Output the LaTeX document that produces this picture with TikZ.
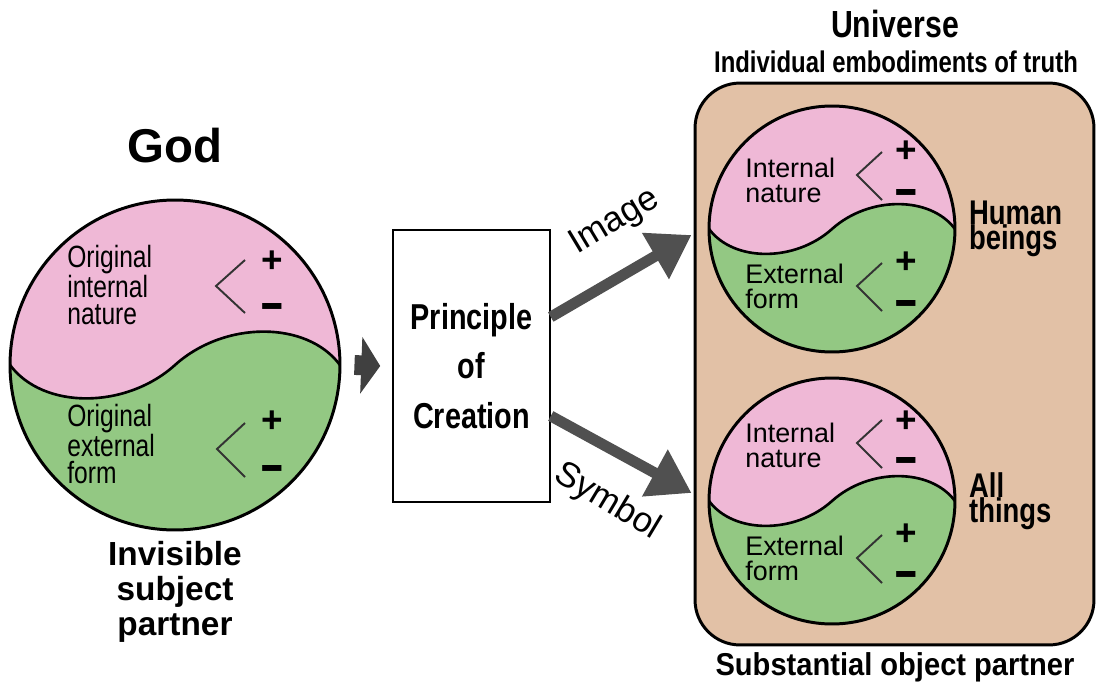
\documentclass[tikz,border=0pt]{standalone}
\usepackage{fontspec}
\setmainfont{Liberation Sans}
\newfontfamily\condfont[FakeStretch=0.8]{Liberation Sans}
\newfontfamily\semifont[FakeStretch=0.92]{Liberation Sans}
\newfontfamily\minusfont[FakeStretch=0.65]{Liberation Sans}
\newcommand\tightskip{\lineskiplimit=-20pt\relax}
\usetikzlibrary{calc,positioning,arrows.meta}
\definecolor{pinkhalf}{RGB}{239,184,214}
\definecolor{greenhalf}{RGB}{147,200,131}
\definecolor{tanbox}{RGB}{226,193,166}
\definecolor{arrowgray}{RGB}{80,80,80}
\definecolor{blockgray}{RGB}{64,64,64}
\tikzset{
  yinyang/.style={
    circle,
    draw=black, line width=1.7pt,
    inner sep=0pt,
    minimum size=2*#1,
    path picture={
      \fill[pinkhalf] (path picture bounding box.south west) rectangle (path picture bounding box.north east);
      \begin{scope}[shift={(path picture bounding box.center)}, x=#1, y=#1]
        \fill[greenhalf] (-1.2,0) -- (-1,0) .. controls (-0.8,-0.27) and (-0.3,-0.27) .. (0,0)
          .. controls (0.3,0.27) and (0.8,0.27) .. (1,0) -- (1.2,0) -- (1.2,-1.2) -- (-1.2,-1.2) -- cycle;
        \draw[line width=1.5pt] (-1,0) .. controls (-0.8,-0.27) and (-0.3,-0.27) .. (0,0)
          .. controls (0.3,0.27) and (0.8,0.27) .. (1,0);
      \end{scope}}},
  intext/.style={anchor=west, align=left, inner sep=0pt,
    font=\condfont\fontsize{17.5}{15.5}\selectfont},
  smalltext/.style={anchor=west, align=left, inner sep=0pt,
    font=\fontsize{15.3}{14.2}\selectfont},
  sign/.style={inner sep=0pt, font=\bfseries\fontsize{21}{21}\selectfont},
  minus/.style={inner sep=0pt, font=\minusfont\bfseries\fontsize{34}{34}\selectfont},
  bracket/.style={draw=black!80, line width=1.1pt},
  tag/.style={anchor=west, align=left, inner sep=0pt,
    font=\condfont\bfseries\fontsize{19.5}{14}\selectfont\tightskip},
  principle/.style={
    rectangle,
    draw=black, line width=0.9pt, fill=white,
    minimum width=3.14cm,
    minimum height=5.44cm,
    align=center,
    font=\condfont\bfseries\fontsize{20.5}{28}\selectfont},
  world/.style={
    rectangle,
    rounded corners=0.9cm,
    draw=black, line width=1.7pt,
    fill=tanbox,
    minimum width=7.98cm,
    minimum height=11.24cm},
  bigarrow/.style={draw=arrowgray, line width=6.2pt, -{Triangle[length=23.8pt,width=28.9pt]}},
  blockarrow/.style={draw=blockgray, line width=11.3pt, -{Triangle[length=10.8pt,width=31.8pt]}},
  arrowlabel/.style={inner sep=0pt, font=\fontsize{20}{20}\selectfont},
}
\begin{document}
\begin{tikzpicture}[x=0.02cm, y=-0.02cm]
  \useasboundingbox (0,0) rectangle (1096,690);

  % God side
  \node[yinyang=3.3cm] (god) at (175,365) {};
  \node[font=\bfseries\fontsize{27}{30}\selectfont, inner sep=0pt] (godtitle) at (175,146) {God};
  \node[align=center, inner sep=0pt, font=\bfseries\fontsize{19}{19.8}\selectfont] (subject) at (175,592) {Invisible\\subject\\partner};
  \node[intext] (orignature) at ($(god)+(-108,-80)$) {Original\\internal\\nature};
  \node[intext] (origform) at ($(god)+(-108,79)$) {Original\\external\\form};
  \draw[bracket] ($(god)+(70,-105)$) -- ++(-29,26) -- ++(29,27);
  \node[sign] at ($(god)+(97,-103)$) {+};
  \node[minus] at ($(god)+(97,-52)$) {–};
  \draw[bracket] ($(god)+(70,58)$) -- ++(-28,26) -- ++(28,28);
  \node[sign] at ($(god)+(97,57)$) {+};
  \node[minus] at ($(god)+(97,110)$) {–};

  % principle
  \node[principle] (poc) at (471.5,366) {Principle\\of\\Creation};
  \draw[blockarrow] ($(god.east)+(13,0)$) -- ($(poc.west)+(-12,0)$);

  % universe
  \node[world] (univ) at (894.5,364) {};
  \node[font=\condfont\bfseries\fontsize{21.5}{21.5}\selectfont, inner sep=0pt] (universe) at (895,24) {Universe};
  \node[font=\condfont\bfseries\fontsize{17}{17}\selectfont, inner sep=0pt] (embody) at (896,62) {Individual embodiments of truth};
  \node[font=\semifont\bfseries\fontsize{18}{18}\selectfont, inner sep=0pt] (object) at (895,667) {Substantial object partner};

  \node[yinyang=2.46cm] (human) at (832,229) {};
  \node[smalltext] (humannature) at ($(human)+(-87,-49)$) {Internal\\nature};
  \node[smalltext] (humanform) at ($(human)+(-87,57)$) {External\\form};
  \draw[bracket] ($(human)+(50,-77)$) -- ++(-25,23) -- ++(25,25);
  \node[sign] at ($(human)+(74,-77)$) {+};
  \node[minus] at ($(human)+(74,-30)$) {–};
  \draw[bracket] ($(human)+(50,34)$) -- ++(-25,23) -- ++(25,25);
  \node[sign] at ($(human)+(74,34)$) {+};
  \node[minus] at ($(human)+(74,81)$) {–};
  \node[tag, right=7pt of human] (humantag) {Human\\beings};

  \node[yinyang=2.46cm] (things) at (832,501) {};
  \node[smalltext] (thingsnature) at ($(things)+(-87,-56)$) {Internal\\nature};
  \node[smalltext] (thingsform) at ($(things)+(-87,57)$) {External\\form};
  \draw[bracket] ($(things)+(50,-81)$) -- ++(-25,23) -- ++(25,25);
  \node[sign] at ($(things)+(74,-79)$) {+};
  \node[minus] at ($(things)+(74,-34)$) {–};
  \draw[bracket] ($(things)+(50,34)$) -- ++(-25,23) -- ++(25,25);
  \node[sign] at ($(things)+(74,34)$) {+};
  \node[minus] at ($(things)+(74,80)$) {–};
  \node[tag, right=7pt of things] (thingstag) {All\\things};

  % image and symbol
  \draw[bigarrow] ($(poc.east)+(0,-49)$) -- ($(univ.west |- human)+(-2,6)$);
  \draw[bigarrow] ($(poc.east)+(0,50)$) -- ($(univ.west |- things)+(-2,-8)$);
  \node[arrowlabel, rotate=31] (image) at (615,222) {Image};
  \node[arrowlabel, rotate=-31] (symbol) at (607,502) {Symbol};
\end{tikzpicture}
\end{document}
